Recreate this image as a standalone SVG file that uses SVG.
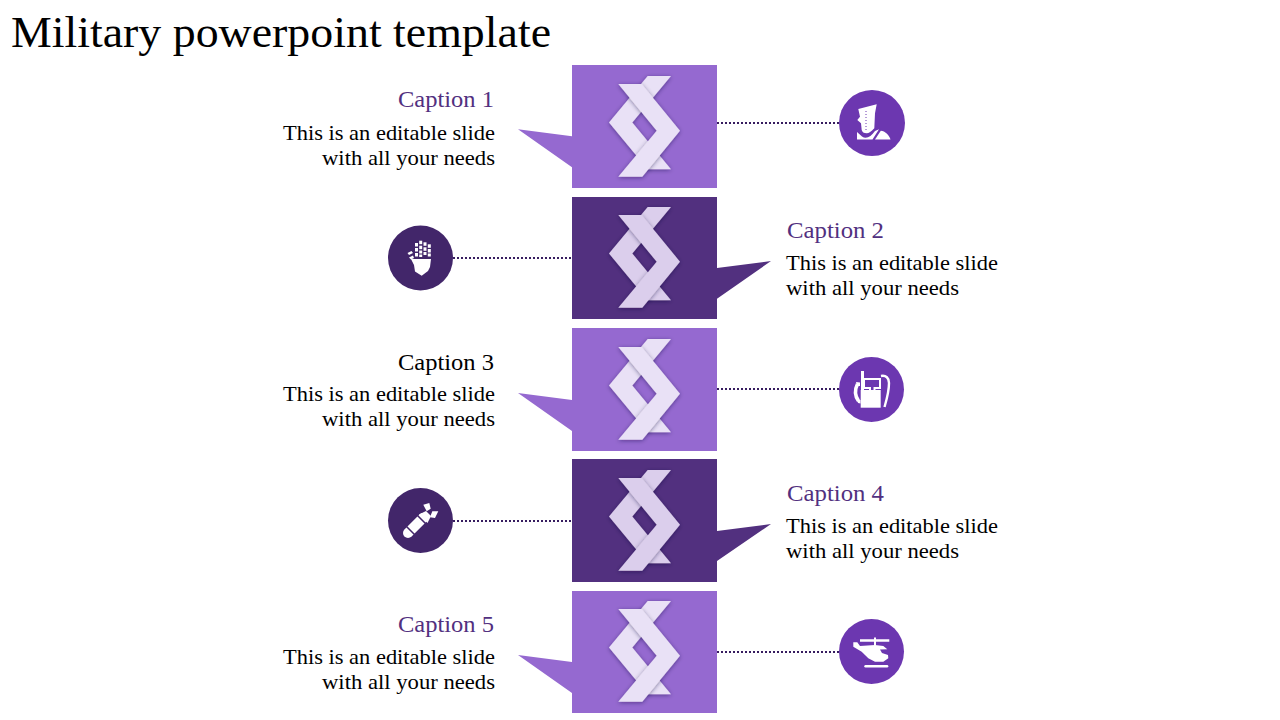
<svg xmlns="http://www.w3.org/2000/svg" width="1280" height="720" viewBox="0 0 1280 720">
<style>
text{font-family:"Liberation Serif","Times New Roman",serif;fill:#000}
.title{font-size:44px}
.cap{font-size:24px;fill:#52307f}
.capk{font-size:24px;fill:#000}
.body{font-size:22px}
.light{fill:#9569d0}
.dark{fill:#52307f}
.lc{fill:#6c37b0}
.dc{fill:#42266a}
.ll{fill:#e9e1f6}
.dl{fill:#dbceec}
.i{fill:#fff}
.conn{fill:none;stroke:#371d60;stroke-width:2;stroke-dasharray:2 2}
</style>
<defs>
<filter id="sh" x="-30%" y="-30%" width="160%" height="160%"><feDropShadow dx="0" dy="1" stdDeviation="2.2" flood-color="#1e0b3c" flood-opacity=".45"/></filter>
<g id="logo">
<path filter="url(#sh)" d="M647.700 76H671L632.300 122.500L671 169.300H647.700L609 122.500Z"/>
<path filter="url(#sh)" d="M618.300 84H641.700L680 130.700L642.300 176.700H618.300L656.700 130.700Z"/>
</g>
</defs>
<rect width="1280" height="720" fill="#fff"/>
<text class="title" x="11" y="47" textLength="540" lengthAdjust="spacingAndGlyphs">Military powerpoint template</text>
<g id="connectors">
<path class="conn" d="M717 123H839"/>
<path class="conn" d="M453 258H572"/>
<path class="conn" d="M717 389H839"/>
<path class="conn" d="M453 521H572"/>
<path class="conn" d="M717 652H839"/>
</g>
<g id="card-1">
<path class="light" d="M572 65H717V188H572V167.300L518 129.300L572 136.300Z"/>
<use href="#logo" class="ll"/>
<text class="cap" x="398" y="107" textLength="96" lengthAdjust="spacingAndGlyphs">Caption 1</text>
<text class="body" x="283" y="139.500" textLength="212" lengthAdjust="spacingAndGlyphs">This is an editable slide</text>
<text class="body" x="322" y="164.500" textLength="173" lengthAdjust="spacingAndGlyphs">with all your needs</text>
</g>
<g id="card-2">
<path class="dark" d="M572 197H717V268L771 261L717 298.700V319H572Z"/>
<use href="#logo" y="131" class="dl"/>
<text class="cap" x="787" y="238" textLength="97" lengthAdjust="spacingAndGlyphs">Caption 2</text>
<text class="body" x="786" y="270" textLength="212" lengthAdjust="spacingAndGlyphs">This is an editable slide</text>
<text class="body" x="786" y="295" textLength="173" lengthAdjust="spacingAndGlyphs">with all your needs</text>
</g>
<g id="card-3">
<path class="light" d="M572 328H717V451H572V431L518 393L572 400Z"/>
<use href="#logo" y="263" class="ll"/>
<text class="capk" x="398" y="370" textLength="96" lengthAdjust="spacingAndGlyphs">Caption 3</text>
<text class="body" x="283" y="401" textLength="212" lengthAdjust="spacingAndGlyphs">This is an editable slide</text>
<text class="body" x="322" y="426" textLength="173" lengthAdjust="spacingAndGlyphs">with all your needs</text>
</g>
<g id="card-4">
<path class="dark" d="M572 459H717V531L771 524L717 561V582H572Z"/>
<use href="#logo" y="394" class="dl"/>
<text class="cap" x="787" y="501" textLength="97" lengthAdjust="spacingAndGlyphs">Caption 4</text>
<text class="body" x="786" y="533" textLength="212" lengthAdjust="spacingAndGlyphs">This is an editable slide</text>
<text class="body" x="786" y="558" textLength="173" lengthAdjust="spacingAndGlyphs">with all your needs</text>
</g>
<g id="card-5">
<path class="light" d="M572 591H717V713H572V693L518 655L572 662Z"/>
<use href="#logo" y="525" class="ll"/>
<text class="cap" x="398" y="632" textLength="96" lengthAdjust="spacingAndGlyphs">Caption 5</text>
<text class="body" x="283" y="664" textLength="212" lengthAdjust="spacingAndGlyphs">This is an editable slide</text>
<text class="body" x="322" y="689" textLength="173" lengthAdjust="spacingAndGlyphs">with all your needs</text>
</g>
<g id="icon-boot">
<circle class="lc" cx="872" cy="123" r="33"/>
<path class="i" d="M858.300 109L876.700 104.300L875 113.300L874.300 128.300C871 131.500 869 133.300 866.700 133.300C864 133.300 862 132 861.700 130L861 123.300L857.300 120L860 116.700Z"/>
<path class="i" d="M857 132L862 136.500C866 139.500 871 137 875 131L879 129.300L872.500 139.500H857Z"/>
<path class="i" d="M875 139.500L880.800 130.800C885 131 889 135 890.500 139.500Z"/>
<path fill="none" stroke="#6c37b0" stroke-width="1" stroke-dasharray="1 2" d="M866 111V131"/>
</g>
<g id="icon-glove">
<circle class="dc" cx="420.500" cy="258" r="32.500"/>
<g class="i">
<rect x="415" y="243" width="3" height="3.500"/><rect x="415" y="248" width="3" height="3.500"/><rect x="415" y="253" width="3" height="3.500"/>
<rect x="419.200" y="240.700" width="3" height="3.500"/><rect x="419.200" y="245.700" width="3" height="3.500"/><rect x="419.200" y="250.500" width="3" height="3"/><rect x="419.200" y="254.500" width="3" height="2.500"/>
<rect x="423.500" y="242.300" width="3" height="3.500"/><rect x="423.500" y="247.300" width="3" height="3.500"/><rect x="423.500" y="252" width="3" height="3"/>
<rect x="427.800" y="244.300" width="3" height="3.500"/><rect x="427.800" y="249" width="3" height="3.500"/><rect x="427.800" y="253.500" width="3" height="3"/>
<path d="M407.500 253L411.500 251L413 253L409 255ZM409 257.500L413 255.500L414 258L411 259.500Z"/>
<path d="M411 259H431L430 267L428 271L421.700 275.700L415 271.500L414 265Z"/>
</g>
</g>
<g id="icon-radio">
<circle class="lc" cx="871.500" cy="389.500" r="32.500"/>
<path class="i" d="M861 371H864V390H861Z"/>
<path class="i" d="M860.700 390H880.700V407.700H860.700Z"/>
<path fill="none" stroke="#fff" stroke-width="2" d="M864 379H880V388H874.500V391H870V388H864Z"/>
<path fill="none" stroke="#fff" stroke-width="2.400" d="M881 376C886 375 889 378 889 383C889 392 886.500 400 884.500 407"/>
<path fill="none" stroke="#fff" stroke-width="3.600" d="M857.500 384C854.500 390 855 396 858.500 401"/>
<path class="i" d="M856 382L860 382.500V386L857 386ZM857 400H860.500V403.500L858 403Z"/>
</g>
<g id="icon-bomb">
<circle class="dc" cx="420.500" cy="520.500" r="32.500"/>
<path fill="none" stroke="#fff" stroke-width="10" stroke-linecap="round" d="M408 533L423 518"/>
<path class="i" d="M419 514.500L426 511L431 516L427.500 523Z"/>
<path fill="none" stroke="#42266a" stroke-width="1.500" d="M405 525L415 535M416 514L426 524"/>
<path class="i" d="M423.300 504.700L429.300 503L430.700 508.700L426.700 511.300ZM432.300 511.300H438.300L435 518L430 517.300Z"/>
</g>
<g id="icon-helicopter">
<circle class="lc" cx="871.500" cy="651.500" r="32.500"/>
<path class="i" d="M860 639.300H874V637.500H876V639.300H889.300V641.700H876V645.500H874V641.700H860Z"/>
<path class="i" d="M853.300 642.300H857.300L860 646L875 645L883.300 646L887.300 649.300L880 649.500L882 653L888 655L888.300 658.300L883.300 661.700H875L868.300 658.300L861.700 651.700L853.300 646.700Z"/>
<rect class="i" x="864.300" y="665" width="24" height="2.400" rx="1.200"/>
</g>
</svg>
